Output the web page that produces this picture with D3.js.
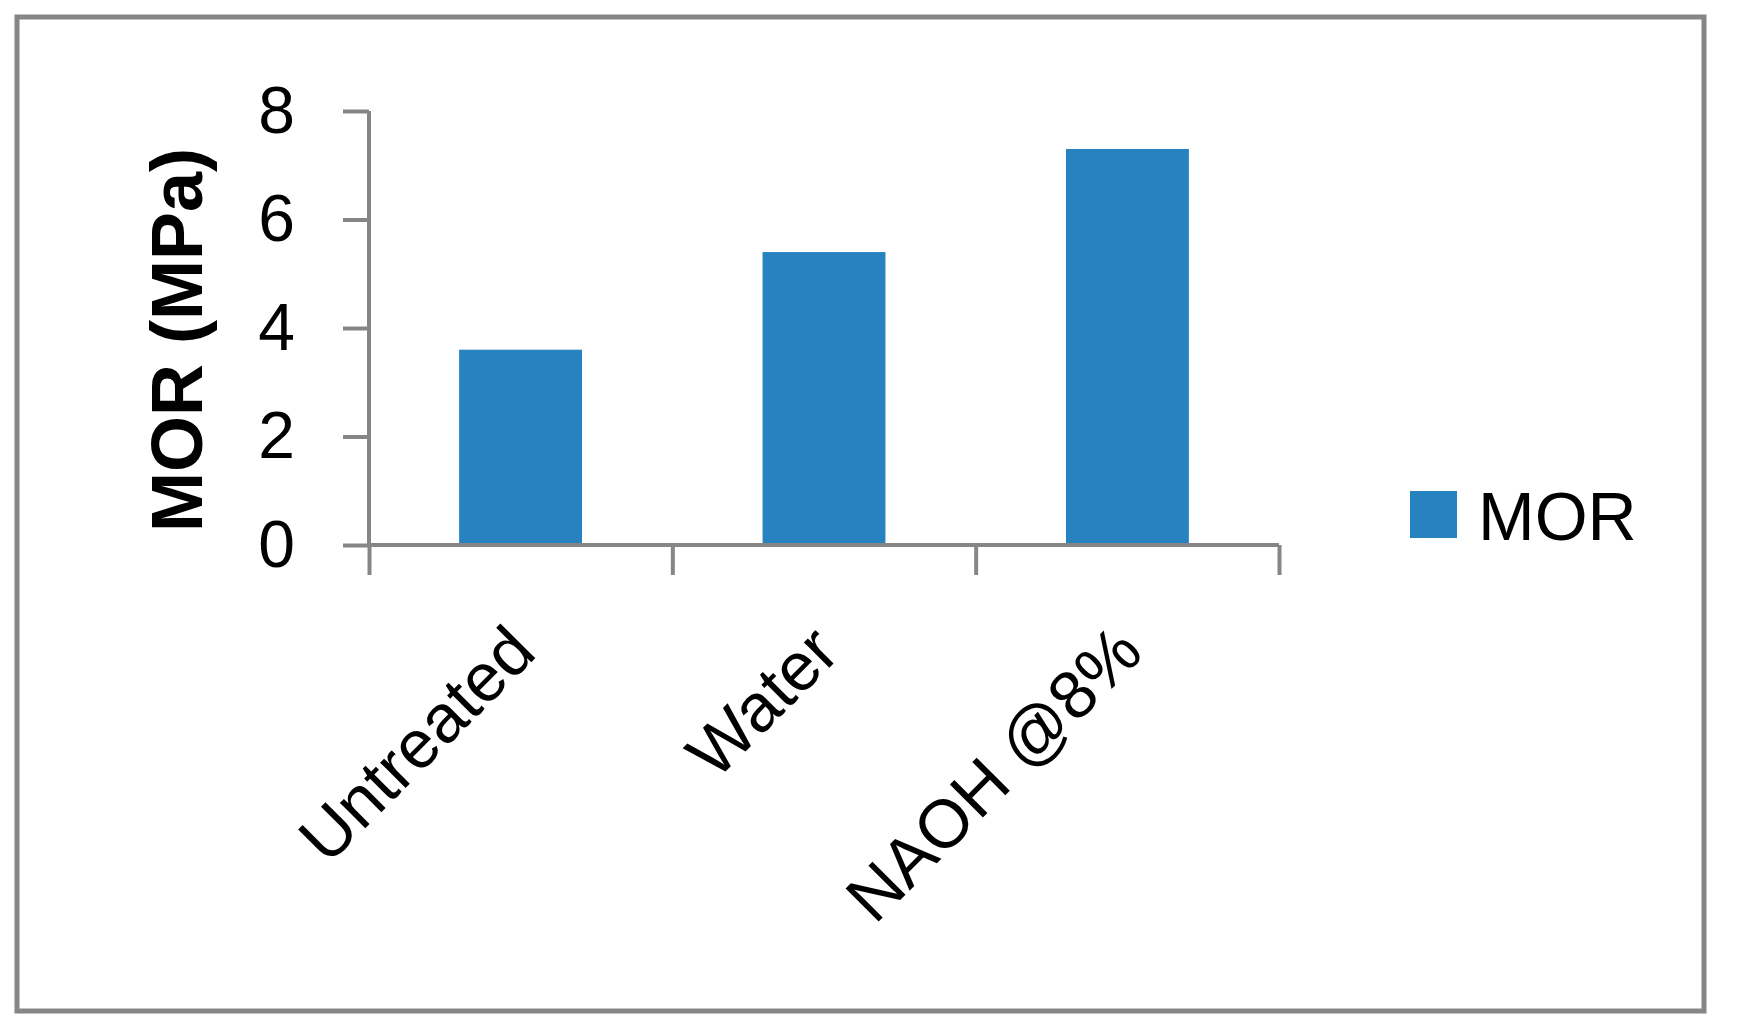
<!DOCTYPE html>
<html><head><meta charset="utf-8">
<script src="https://cdn.jsdelivr.net/npm/d3@7"></script>
<style>body{margin:0;background:#fff}</style>
</head><body><div id="wrapper"></div>
<script>
const categories = ["Untreated", "Water", "NAOH @8%"];
const morValues = [3.6, 5.4, 7.3];
const yTicks = [0, 2, 4, 6, 8];

const width = 1751, height = 1033;
const svg = d3.select("#wrapper").append("svg").attr("width", width).attr("height", height);
const font = "'Liberation Sans', Arial, sans-serif";
const grey = "#868686";

// outer frame
svg.append("rect").attr("x", 17).attr("y", 17).attr("width", 1687).attr("height", 994)
  .attr("fill", "none").attr("stroke", grey).attr("stroke-width", 5);

const x = d3.scaleBand().domain(categories).range([369, 1279]).paddingInner(0.595).paddingOuter(0.297);
const y = d3.scaleLinear().domain([0, 8]).range([545, 111]);

svg.selectAll(".bar").data(morValues).join("rect")
  .attr("x", (d, i) => x(categories[i]))
  .attr("width", x.bandwidth())
  .attr("y", d => y(d))
  .attr("height", d => y(0) - y(d))
  .attr("fill", "#2783c0");

// y axis
const yAxis = svg.append("g").attr("transform", "translate(369,0)")
  .call(d3.axisLeft(y).tickValues(yTicks).tickSize(26).tickPadding(48));
yAxis.selectAll("text").attr("font-family", font).attr("font-size", 66).attr("fill", "#000");

// x axis: ticks at band edges
const xLine = d3.scaleLinear().domain([0, 3]).range([369, 1279]);
const xAxis = svg.append("g").attr("transform", "translate(0,545)")
  .call(d3.axisBottom(xLine).tickValues([0, 1, 2, 3]).tickSize(30).tickFormat(""));
[yAxis, xAxis].forEach(a => {
  a.selectAll("line,path").attr("stroke", grey).attr("stroke-width", 4);
  a.select(".domain").attr("d", a === yAxis ? "M0,111V545" : "M369,0H1279");
});

// category labels
svg.selectAll(".cat").data(categories).join("text")
  .attr("transform", d => `translate(${x(d) + x.bandwidth() / 2 + 18},${655}) rotate(-45)`)
  .attr("text-anchor", "end")
  .attr("font-family", font).attr("font-size", 68)
  .text(d => d);

// y title
svg.append("text")
  .attr("transform", "translate(202,340) rotate(-90)")
  .attr("text-anchor", "middle")
  .attr("font-family", font).attr("font-size", 72).attr("font-weight", "bold")
  .text("MOR (MPa)");

// legend
svg.append("rect").attr("x", 1410).attr("y", 491).attr("width", 47).attr("height", 47).attr("fill", "#2783c0");
svg.append("text").attr("x", 1478).attr("y", 540)
  .attr("font-family", font).attr("font-size", 68).text("MOR");
</script>
</body></html>
